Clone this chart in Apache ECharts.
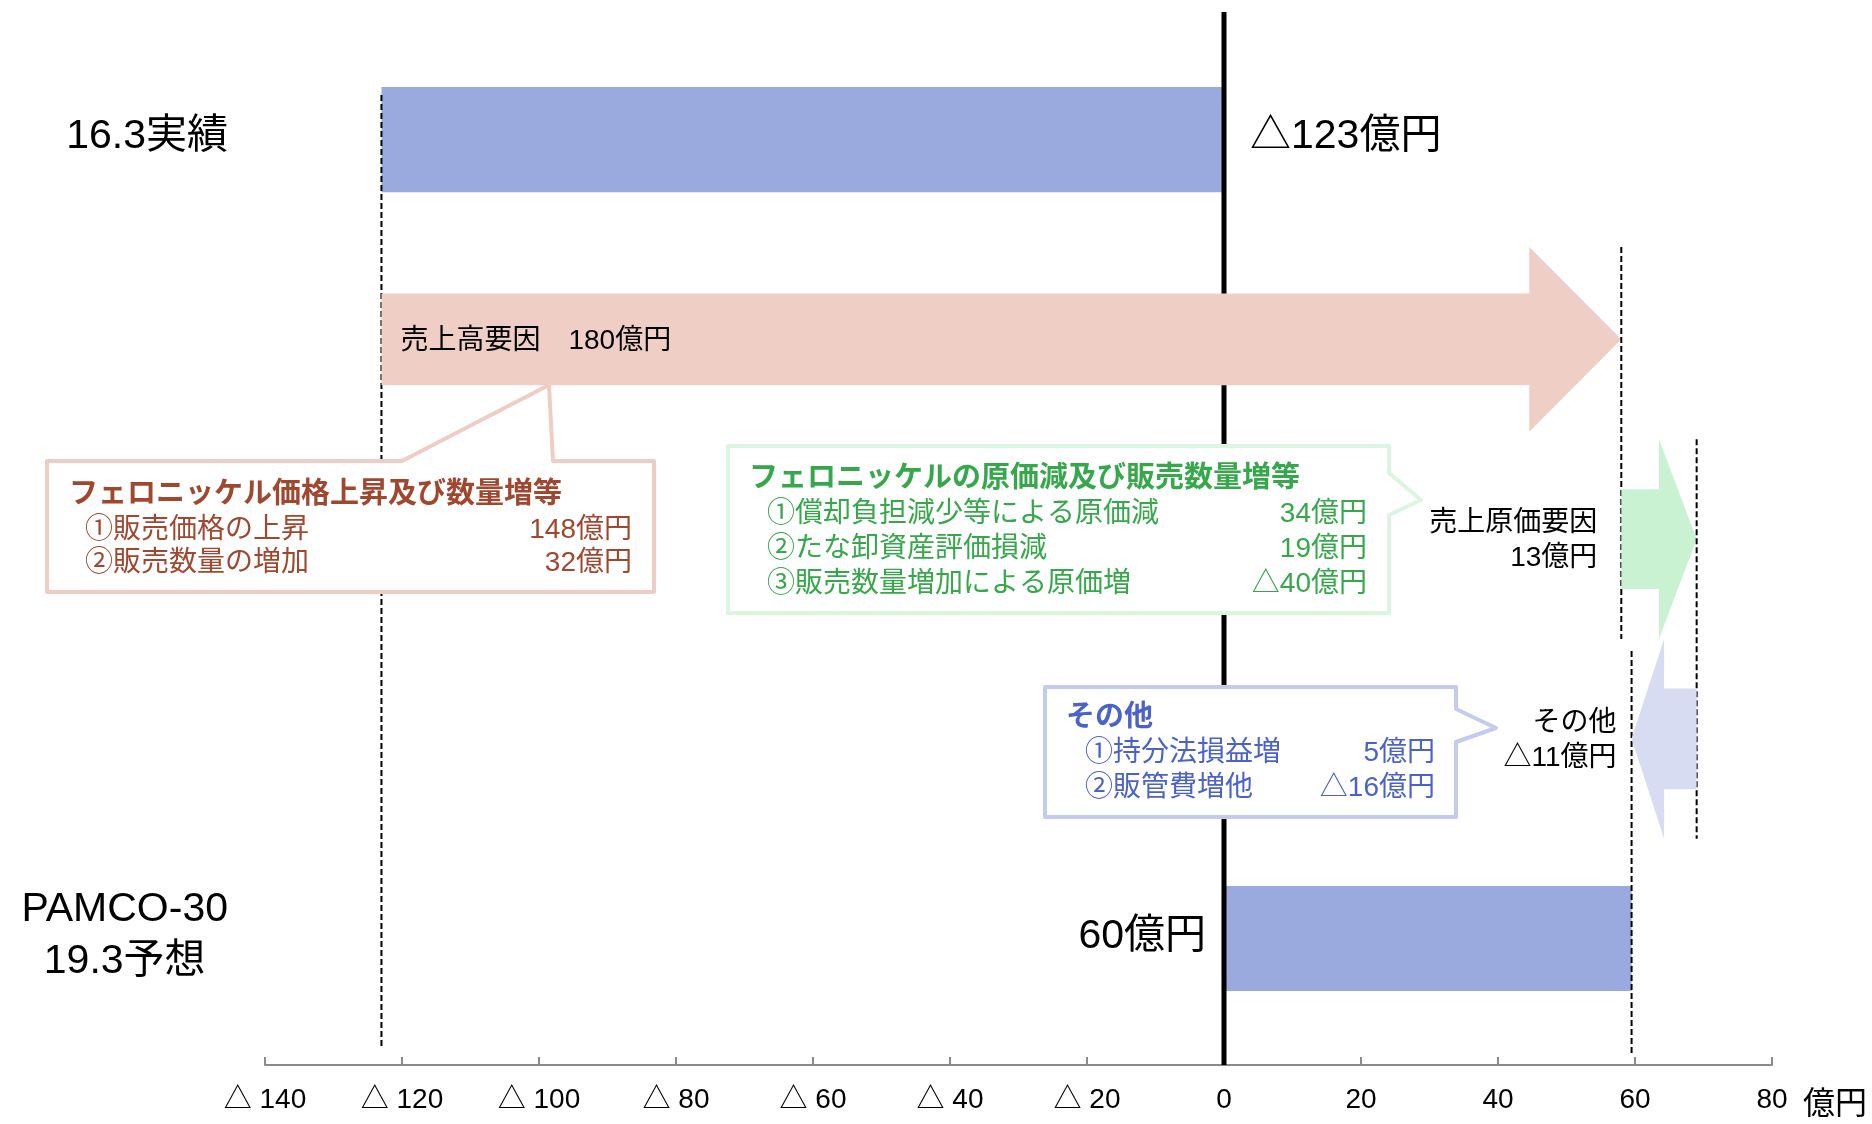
<!DOCTYPE html>
<html>
<head>
<meta charset="utf-8">
<title>PAMCO-30 増減要因</title>
<script src="https://cdn.jsdelivr.net/npm/echarts@6/dist/echarts.min.js"></script>
<style>
  html, body { margin: 0; padding: 0; background: #fff; }
  #chart-container { width: 1872px; height: 1124px; }
</style>
</head>
<body>
<div id="chart-container"></div>
<script>
// ---- data ----
const categories = ['16.3実績', '売上高要因', '売上原価要因', 'その他', 'PAMCO-30\n19.3予想'];
const startValues = [0, -123, 58, 69, 0];
const endValues = [-123, 58, 69, 59.5, 59.5];
const valueLabels = ['△123億円', '売上高要因　180億円', '売上原価要因\n13億円', 'その他\n△11億円', '60億円'];
const totalRows = [0, 4];
const factorRows = [1, 2, 3];

const xMin = -140;
const xMax = 80;
const xInterval = 20;
const unitLabel = '億円';

const priceTitle = 'フェロニッケル価格上昇及び数量増等';
const priceItems = ['①販売価格の上昇', '②販売数量の増加'];
const priceValues = ['148億円', '32億円'];

const costTitle = 'フェロニッケルの原価減及び販売数量増等';
const costItems = ['①償却負担減少等による原価減', '②たな卸資産評価損減', '③販売数量増加による原価増'];
const costValues = ['34億円', '19億円', '△40億円'];

const otherTitle = 'その他';
const otherItems = ['①持分法損益増', '②販管費増他'];
const otherValues = ['5億円', '△16億円'];

// ---- layout / style ----
const FONT = '"Liberation Sans", Arial, "Noto Sans CJK JP", sans-serif';
const yMin = -0.639;
const yMax = 4.633;
const BAR_COLOR = '#9AAADF';
const arrowColors = ['#EFCEC5', '#C9F2D3', '#D7DCF2'];
const bodyRatio = [0.46, 0.5, 0.505];
const headRatio = [0.926, 1.0, 1.0];

const measureCtx = document.createElement('canvas').getContext('2d');
function blockWidth(text, size) {
  measureCtx.font = size + 'px ' + FONT;
  return Math.max.apply(null, text.split('\n').map(function (s) { return measureCtx.measureText(s).width; }));
}

function txt(text, x, y, size, align, color, weight) {
  return {
    type: 'text',
    style: {
      text: text, x: x, y: y,
      fill: color || '#000',
      fontSize: size, fontFamily: FONT, fontWeight: weight || 'normal',
      align: align, verticalAlign: 'middle', lineHeight: size * 1.25
    }
  };
}

function dashed(x, y1, y2) {
  return {
    type: 'line',
    shape: { x1: x, y1: y1, x2: x, y2: y2 },
    style: { stroke: '#000', lineWidth: 2, lineDash: [6, 3] }
  };
}

let dom = document.getElementById('chart-container');
let myChart = echarts.init(dom, null, { renderer: 'canvas', useDirtyRect: false });

function renderTotal(params, api) {
  const from = api.value(0), to = api.value(1), row = api.value(2);
  const a = api.coord([from, row]);
  const b = api.coord([to, row]);
  const band = api.size([0, 1])[1];
  const cs = params.coordSys;
  const h = band * 0.526;
  const cy = a[1];
  const children = [{
    type: 'rect',
    shape: { x: Math.min(a[0], b[0]), y: cy - h / 2, width: Math.abs(b[0] - a[0]), height: h },
    style: { fill: BAR_COLOR }
  }];
  const bottom = cs.y + cs.height;
  if (row === 0) {
    children.push(dashed(b[0], cy - h / 2 + 8, bottom - 17));
    children.push(txt(valueLabels[row], a[0] + 26, cy - 3, 41, 'left'));
  } else {
    const prevY = api.coord([to, row - 1])[1];
    children.push(dashed(b[0], prevY - band * 0.5 + 12, bottom - 12));
    children.push(txt(valueLabels[row], a[0] - 18, cy - 2, 41, 'right'));
  }
  const name = categories[row];
  const w = blockWidth(name, 41);
  children.push(txt(name, cs.x - 37 - w / 2, cy - 3, 41, 'center'));
  return { type: 'group', children: children };
}

function renderFactor(params, api) {
  const k = params.dataIndex;
  const from = api.value(0), to = api.value(1), row = api.value(2);
  const a = api.coord([from, row]);
  const b = api.coord([to, row]);
  const band = api.size([0, 1])[1];
  const cy = a[1];
  const d = to >= from ? 1 : -1;
  const len = Math.abs(b[0] - a[0]);
  const headLen = Math.min(92, len * 0.5);
  const bh = band * bodyRatio[k] / 2;
  const hh = band * headRatio[k] / 2;
  const xb = b[0] - d * headLen;
  const children = [{
    type: 'polygon',
    shape: {
      points: [
        [a[0], cy - bh], [xb, cy - bh], [xb, cy - hh], [b[0], cy],
        [xb, cy + hh], [xb, cy + bh], [a[0], cy + bh]
      ]
    },
    style: { fill: arrowColors[k] }
  }];
  if (d > 0 && row + 1 < categories.length - 1) {
    const nextY = api.coord([to, row + 1])[1];
    children.push(dashed(b[0], cy - hh, nextY + band * 0.5));
  }
  if (len > 300) {
    children.push(txt(valueLabels[row], a[0] + 19, cy + 2, 28, 'left'));
  } else {
    const edge = Math.min(a[0], b[0]) - (d > 0 ? 24 : 15);
    children.push(txt(valueLabels[row], edge, cy + 2, 28, 'right'));
  }
  return { type: 'group', children: children };
}

function callout(points, border, color, title, items, values, p) {
  const els = [{
    type: 'polygon', z: 100,
    shape: { points: points },
    style: { fill: '#fff', stroke: border, lineWidth: 4, lineJoin: 'round' }
  }];
  const t = txt(title, p.tx, p.ty, 29, 'left', color, 'bold');
  t.z = 101;
  els.push(t);
  items.forEach(function (s, i) {
    const y = p.iy + i * p.gap;
    const a = txt(s, p.ix, y, 28, 'left', color);
    const b = txt(values[i], p.vx, y, 28, 'right', color);
    a.z = 101; b.z = 101;
    els.push(a, b);
  });
  return els;
}

const totalData = totalRows.map(function (r) { return [startValues[r], endValues[r], r]; });
const factorData = factorRows.map(function (r) { return [startValues[r], endValues[r], r]; });

let option = {
  animation: false,
  backgroundColor: '#fff',
  grid: { left: 265, right: 100, top: 12, bottom: 59 },
  xAxis: {
    type: 'value',
    min: xMin, max: xMax, interval: xInterval,
    splitLine: { show: false },
    axisLine: { show: true, onZero: false, lineStyle: { color: '#8a8a8a', width: 2 } },
    axisTick: { show: true, inside: true, length: 8, lineStyle: { color: '#8a8a8a', width: 2 } },
    axisLabel: {
      margin: 21, fontSize: 28, color: '#000', fontFamily: FONT,
      formatter: function (v) { return v < 0 ? '△ ' + (-v) : String(v); }
    }
  },
  yAxis: { type: 'value', min: yMin, max: yMax, inverse: true, show: false },
  graphic: [].concat(
    callout([[47, 461], [402, 461], [549, 385], [553, 461], [654, 461], [654, 592], [47, 592]],
      '#EFCDC4', '#A0472F', priceTitle, priceItems, priceValues,
      { tx: 69, ty: 495, ix: 85, iy: 530, gap: 33, vx: 632 }),
    callout([[728, 446], [1389, 446], [1389, 473], [1421, 500], [1389, 515], [1389, 613], [728, 613]],
      '#DCF5E1', '#36A84B', costTitle, costItems, costValues,
      { tx: 749, ty: 479, ix: 767, iy: 514, gap: 35, vx: 1367 }),
    callout([[1045, 687], [1456, 687], [1456, 709], [1496, 728], [1456, 742], [1456, 817], [1045, 817]],
      '#C3CCEE', '#4B63C9', otherTitle, otherItems, otherValues,
      { tx: 1066, ty: 718, ix: 1085, iy: 753, gap: 35, vx: 1435 }),
    [{
      type: 'text', z: 100,
      style: { text: unitLabel, x: 1803, y: 1105, fill: '#000', fontSize: 32, fontFamily: FONT, align: 'left', verticalAlign: 'middle' }
    }]
  ),
  series: [
    {
      type: 'custom', name: 'totals', z: 1,
      renderItem: renderTotal,
      encode: { x: [0, 1], y: 2 },
      data: totalData
    },
    {
      type: 'line', name: 'zero', z: 2,
      symbol: 'none', showSymbol: false, silent: true,
      lineStyle: { color: '#000', width: 5 },
      data: [[0, yMin], [0, yMax]]
    },
    {
      type: 'custom', name: 'factors', z: 3,
      renderItem: renderFactor,
      encode: { x: [0, 1], y: 2 },
      data: factorData
    }
  ]
};

if (option && typeof option === 'object') {
  myChart.setOption(option);
}

window.addEventListener('resize', myChart.resize);
</script>
</body>
</html>
